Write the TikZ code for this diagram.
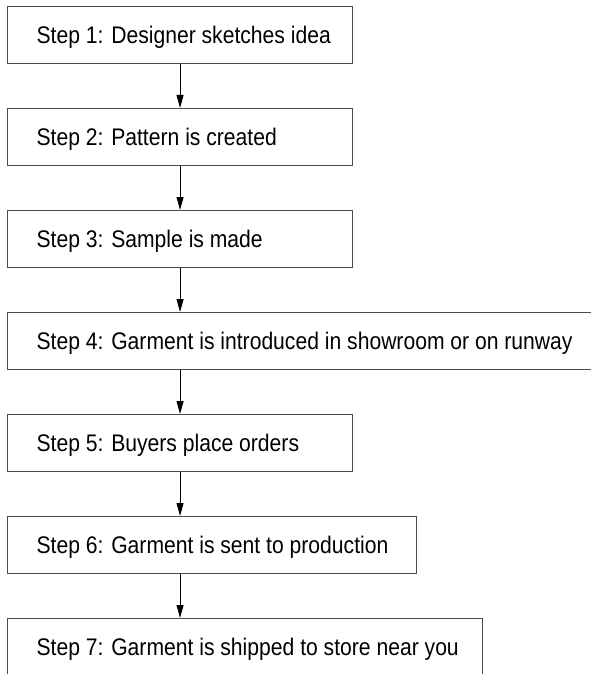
\documentclass[tikz,border=0pt]{standalone}
\usepackage{fontspec}
\setmainfont{Liberation Sans}[FakeStretch=0.88]
\usetikzlibrary{arrows.meta}
\newcommand\stepline[2][287pt]{\makebox[#1][l]{#2}}
\begin{document}
\begin{tikzpicture}[x=1pt,y=1pt,
  stepbox/.style={draw=black!70, line width=1.1pt, anchor=north west, minimum height=57pt,
    inner xsep=29pt, text height=17pt, text depth=0pt, font=\fontsize{24}{28}\selectfont},
  flow/.style={line width=1pt, -{Triangle[length=13pt,width=7pt]}}]
\useasboundingbox (0,0) rectangle (591,-674);
\clip (0,0) rectangle (591,-674);
\node[stepbox] (s1) at (7,-6) {\stepline{Step 1: Designer sketches idea}};
\node[stepbox] (s2) at (7,-108) {\stepline{Step 2: Pattern is created}};
\node[stepbox] (s3) at (7,-210) {\stepline{Step 3: Sample is made}};
\node[stepbox] (s4) at (7,-312) {Step 4: Garment is introduced in showroom or on runway};
\node[stepbox] (s5) at (7,-414) {\stepline{Step 5: Buyers place orders}};
\node[stepbox] (s6) at (7,-516) {\stepline[351pt]{Step 6: Garment is sent to production}};
\node[stepbox] (s7) at (7,-618) {\stepline[417pt]{Step 7: Garment is shipped to store near you}};
\draw[flow] (s1.south) -- (s2.north);
\draw[flow] (s2.south) -- (s3.north);
\draw[flow] (s3.south) -- (s3.south |- s4.north);
\draw[flow] (s3.south |- s4.south) -- (s5.north);
\draw[flow] (s5.south) -- (s5.south |- s6.north);
\draw[flow] (s5.south |- s6.south) -- (s5.south |- s7.north);
\end{tikzpicture}
\end{document}
